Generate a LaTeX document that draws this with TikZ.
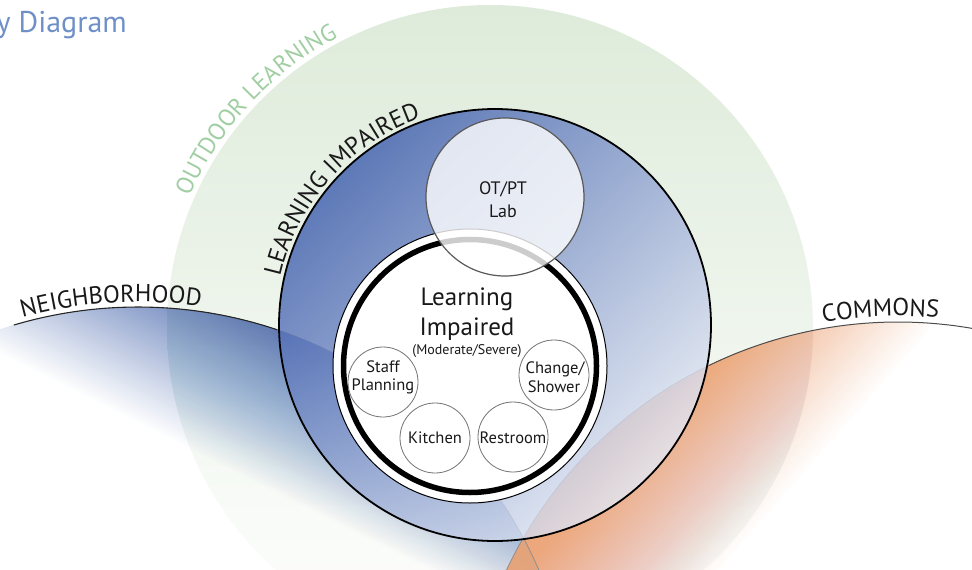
\documentclass[tikz,border=0pt]{standalone}
\usepackage{fontspec}
\setmainfont{PT Sans}
\usetikzlibrary{decorations.text}
\definecolor{ogreen}{RGB}{222,235,218}
\definecolor{ogtext}{RGB}{160,206,162}
\definecolor{nbblue}{RGB}{88,116,180}
\definecolor{cmorange}{RGB}{236,164,120}
\definecolor{lidark}{RGB}{60,92,173}
\definecolor{lilight}{RGB}{228,233,245}
\definecolor{titleblue}{RGB}{110,143,200}
\definecolor{txt}{RGB}{25,25,25}
\begin{document}
\begin{tikzpicture}[x=1pt,y=1pt,
  room/.style={circle, draw=black!55, line width=0.8pt, fill=white, minimum size=70pt, inner sep=0pt},
  roomtxt/.style={anchor=base, inner sep=0pt, text=txt, font=\fontsize{16.5}{18}\selectfont},
  arclbl/.style={decorate, decoration={text along path, text align=center, text={#1}}}
]
\useasboundingbox (0,-570) rectangle (972,0);
\clip (0,-570) rectangle (972,0);
\coordinate (gc) at (490,-328);
\coordinate (nc) at (138,-744);
\coordinate (cc) at (898,-755);
\coordinate (lc) at (495,-325);
\coordinate (ic) at (470,-366);

% outdoor learning
\shade[top color=ogreen, middle color=ogreen!70!white, bottom color=white] (gc) circle (323);

% neighborhood: linear fade built from stacked translucent bands
\begin{scope}
  \clip (nc) circle (437);
  \begin{scope}[shift={(171,-442)}, rotate=63.4]
    \foreach \i in {1,...,60} {
      \pgfmathsetmacro\op{0.92/60/(1-0.92*(\i-1)/60)}
      \fill[nbblue, fill opacity=\op] (\i*2.5,-900) -- (1300,-900) -- (1300,900) -- (\i*2.5,900) -- cycle;
    }
  \end{scope}
\end{scope}
% commons
\begin{scope}
  \clip (cc) circle (433);
  \begin{scope}[shift={(923,-342)}, rotate=138.7]
    \foreach \i in {1,...,60} {
      \pgfmathsetmacro\op{0.92/60/(1-0.92*(\i-1)/60)}
      \fill[cmorange, fill opacity=\op] (\i*2.5,-900) -- (1300,-900) -- (1300,900) -- (\i*2.5,900) -- cycle;
    }
  \end{scope}
\end{scope}

% boundary arcs
\draw[line width=1.1pt, black!85] ([shift={(106.5:437)}]nc) arc[start angle=106.5, end angle=71.4, radius=437];
\draw[line width=0.7pt, black!45] ([shift={(71.4:437)}]nc) arc[start angle=71.4, end angle=23, radius=437];
\draw[line width=1pt, black!70] ([shift={(77:433)}]cc) arc[start angle=77, end angle=115.9, radius=433];
\draw[line width=0.7pt, black!45] ([shift={(115.9:433)}]cc) arc[start angle=115.9, end angle=156, radius=433];

% learning impaired ring
\shade[top color=lidark, bottom color=lilight, shading angle=45, fill opacity=0.8] (lc) circle (216);
\draw[line width=1.8pt] (lc) circle (216);

% arc labels
\path[arclbl={|\fontsize{24}{24}\selectfont\color{ogtext}|OUTDOOR LEARNING}] ([shift={(169:328)}]gc) arc[start angle=169, end angle=105, radius=328];
\path[arclbl={|\fontsize{24.5}{24.5}\selectfont\color{txt}|LEARNING IMPAIRED}] ([shift={(178.5:220)}]lc) arc[start angle=178.5, end angle=98.5, radius=220];
\path[arclbl={|\fontsize{24.5}{24.5}\selectfont\color{txt}|NEIGHBORHOOD}] ([shift={(116:442)}]nc) arc[start angle=116, end angle=71, radius=442];
\path[arclbl={|\fontsize{24.5}{24.5}\selectfont\color{txt}|COMMONS}] ([shift={(110:439)}]cc) arc[start angle=110, end angle=74.5, radius=439];

% inner circle
\node[circle, fill=white, draw=black, line width=1pt, minimum size=274pt, inner sep=0pt] (inner) at (ic) {};
\draw[line width=5.5pt] (inner.center) circle (126.5);

% OT/PT lab
\node[circle, fill=white, fill opacity=0.8, draw=black!65, draw opacity=1, line width=1.2pt, minimum size=158pt, inner sep=0pt] (lab) at (505,-197) {};
\node[roomtxt, font=\fontsize{18}{18}\selectfont] (labt1) at (503,-194) {OT/PT};
\node[roomtxt, font=\fontsize{18}{18}\selectfont] (labt2) at (503,-217) {Lab};

% inner labels
\node[roomtxt, font=\fontsize{25}{25}\selectfont] (lit1) at (467,-305) {Learning};
\node[roomtxt, font=\fontsize{25}{25}\selectfont] (lit2) at (467,-335) {Impaired};
\node[roomtxt, font=\fontsize{14}{14}\selectfont] (lit3) at (467,-354) {(Moderate/Severe)};

% rooms
\node[room] (staff) at (383,-382) {};
\node[room] (kitchen) at (435,-438) {};
\node[room] (restroom) at (513,-437) {};
\node[room] (change) at (554,-375) {};
\node[roomtxt] (staff1) at (383,-372) {Staff};
\node[roomtxt] (staff2) at (383,-390) {Planning};
\node[roomtxt] (kitchent) at (435,-443) {Kitchen};
\node[roomtxt] (restroomt) at (513,-443) {Restroom};
\node[roomtxt] (change1) at (555,-373) {Change/};
\node[roomtxt] (change2) at (554,-392) {Shower};

% title
\node[anchor=base east, inner sep=0pt, text=titleblue, font=\fontsize{30}{30}\selectfont] (title) at (127,-32) {y Diagram};
\end{tikzpicture}
\end{document}
